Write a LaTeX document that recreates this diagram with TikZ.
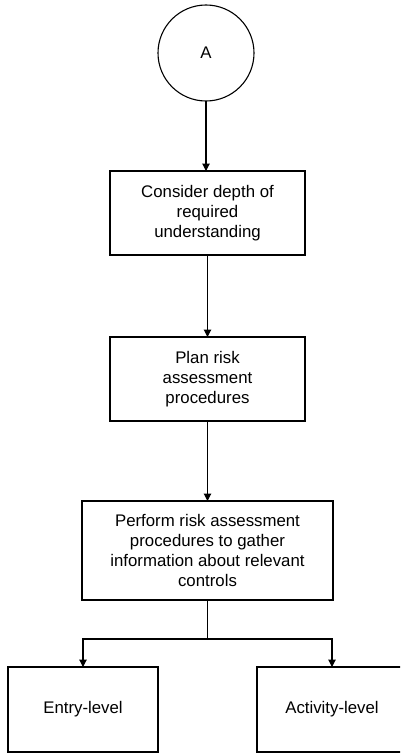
\documentclass[tikz,border=0pt]{standalone}
\usepackage{fontspec}
\setmainfont{Liberation Sans}
\usetikzlibrary{arrows.meta}
\begin{document}
\begin{tikzpicture}[x=1bp,y=-1bp,
  every node/.style={font=\fontsize{16.8bp}{20.2bp}\selectfont, inner sep=0pt, outer sep=0pt},
  stepbox/.style={draw, line width=1.3bp, rectangle, align=center},
  conn/.style={line width=1.1bp, -{Triangle[width=7.5bp,length=7.5bp]}},
  plain/.style={line width=1.1bp}]
  \useasboundingbox (0,0) rectangle (400,754);
  \begin{scope}
  \clip (0,0) rectangle (400,754);
  \node[draw, circle, line width=1.1bp, minimum size=96bp] (a) at (206,53) {A};
  \node[stepbox, minimum width=195bp, minimum height=84bp] (b1) at (207.5,213)
    {Consider depth of\\required\\understanding};
  \node[stepbox, minimum width=195bp, minimum height=84bp] (b2) at (207.5,379)
    {Plan risk\\assessment\\procedures};
  \node[stepbox, minimum width=251bp, minimum height=99bp] (b3) at (207.5,550.5)
    {Perform risk assessment\\procedures to gather\\information about relevant\\controls};
  \node[stepbox, minimum width=150bp, minimum height=85bp] (e) at (83,709.5) {Entry-level};
  \node[stepbox, minimum width=150bp, minimum height=85bp] (f) at (332,709.5) {Activity-level};
  \coordinate (j) at (207.5,639);
  \draw[conn] (a.south) -- (a.south |- b1.north);
  \draw[conn] (b1.south) -- (b2.north);
  \draw[conn] (b2.south) -- (b3.north);
  \draw[plain] (b3.south) -- (j);
  \draw[conn] (j) -| (e.north);
  \draw[conn] (j) -| (f.north);
  \end{scope}
\end{tikzpicture}
\end{document}
